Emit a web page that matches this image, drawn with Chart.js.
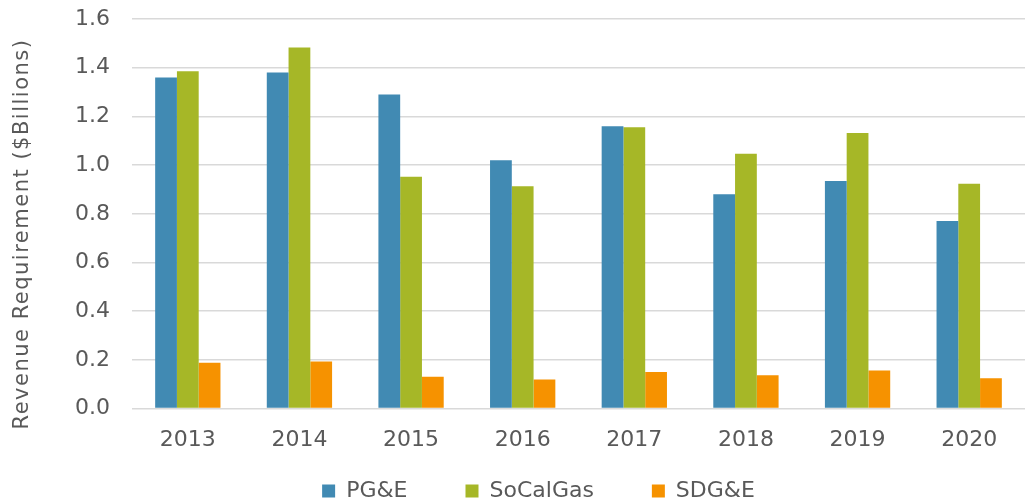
<!DOCTYPE html>
<html>
<head>
<meta charset="utf-8">
<script src="https://cdn.jsdelivr.net/npm/chart.js@4/dist/chart.umd.min.js"></script>
<style>
  html, body { margin: 0; padding: 0; background: #fff; }
  #wrap { width: 1026px; height: 501px; }
</style>
</head>
<body>
<div id="wrap"><canvas id="chart" width="1026" height="501"></canvas></div>
<script>
const years = ['2013', '2014', '2015', '2016', '2017', '2018', '2019', '2020'];
const pge = [1.36, 1.38, 1.29, 1.02, 1.16, 0.88, 0.935, 0.77];
const socalgas = [1.385, 1.483, 0.952, 0.913, 1.155, 1.047, 1.132, 0.923];
const sdge = [0.188, 0.193, 0.131, 0.12, 0.15, 0.137, 0.156, 0.125];
const yTitle = 'Revenue Requirement ($Billions)';

const textColor = '#595959';
const fontFamily = 'DejaVu Sans';

// legend: fixed height, moved down/right after layout; axis title drawn by hand
const layoutTweaks = {
    id: 'layoutTweaks',
    beforeInit(chart) {
        const fit = chart.legend.fit;
        chart.legend.fit = function () {
            fit.call(this);
            this.height = 38;
        };
    },
    afterLayout(chart) {
        chart.legend.left += 52;
        chart.legend.top = 422;
    },
    afterDraw(chart) {
        const c = chart.ctx;
        c.save();
        c.translate(23, 234);
        c.rotate(-Math.PI / 2);
        c.font = '21px ' + fontFamily;
        c.letterSpacing = '1.5px';
        c.fillStyle = textColor;
        c.textAlign = 'center';
        c.textBaseline = 'middle';
        c.fillText(yTitle, 0, 0);
        c.restore();
    }
};

const ctx = document.getElementById('chart').getContext('2d');

let chart = new Chart(ctx, {
    type: 'bar',
    data: {
        labels: years,
        datasets: [
            { label: 'PG&E', data: pge, backgroundColor: '#418AB3' },
            { label: 'SoCalGas', data: socalgas, backgroundColor: '#A6B727' },
            { label: 'SDG&E', data: sdge, backgroundColor: '#F69200' }
        ]
    },
    options: {
        responsive: false,
        animation: false,
        layout: { padding: { left: 0, right: 1, top: 19, bottom: 0 } },
        datasets: {
            bar: { barPercentage: 1.0, categoryPercentage: 0.585 }
        },
        plugins: {
            tooltip: { enabled: false },
            legend: {
                position: 'bottom',
                labels: {
                    boxWidth: 13,
                    boxHeight: 13,
                    padding: 58,
                    color: textColor,
                    font: { family: fontFamily, size: 22 }
                }
            }
        },
        scales: {
            x: {
                grid: { display: false },
                border: { display: false },
                ticks: { color: textColor, padding: 10, font: { family: fontFamily, size: 22 } }
            },
            y: {
                min: 0,
                max: 1.6,
                grid: { color: '#D9D9D9', lineWidth: 1.5, drawTicks: false },
                border: { display: false },
                ticks: {
                    stepSize: 0.2,
                    padding: 22,
                    color: textColor,
                    font: { family: fontFamily, size: 22 },
                    callback: (v) => v.toFixed(1)
                },
                afterFit: (scale) => {
                    scale.width = 132;
                    scale.paddingTop = 0;
                    scale.paddingBottom = 0;
                }
            }
        }
    },
    plugins: [layoutTweaks]
});
</script>
</body>
</html>
